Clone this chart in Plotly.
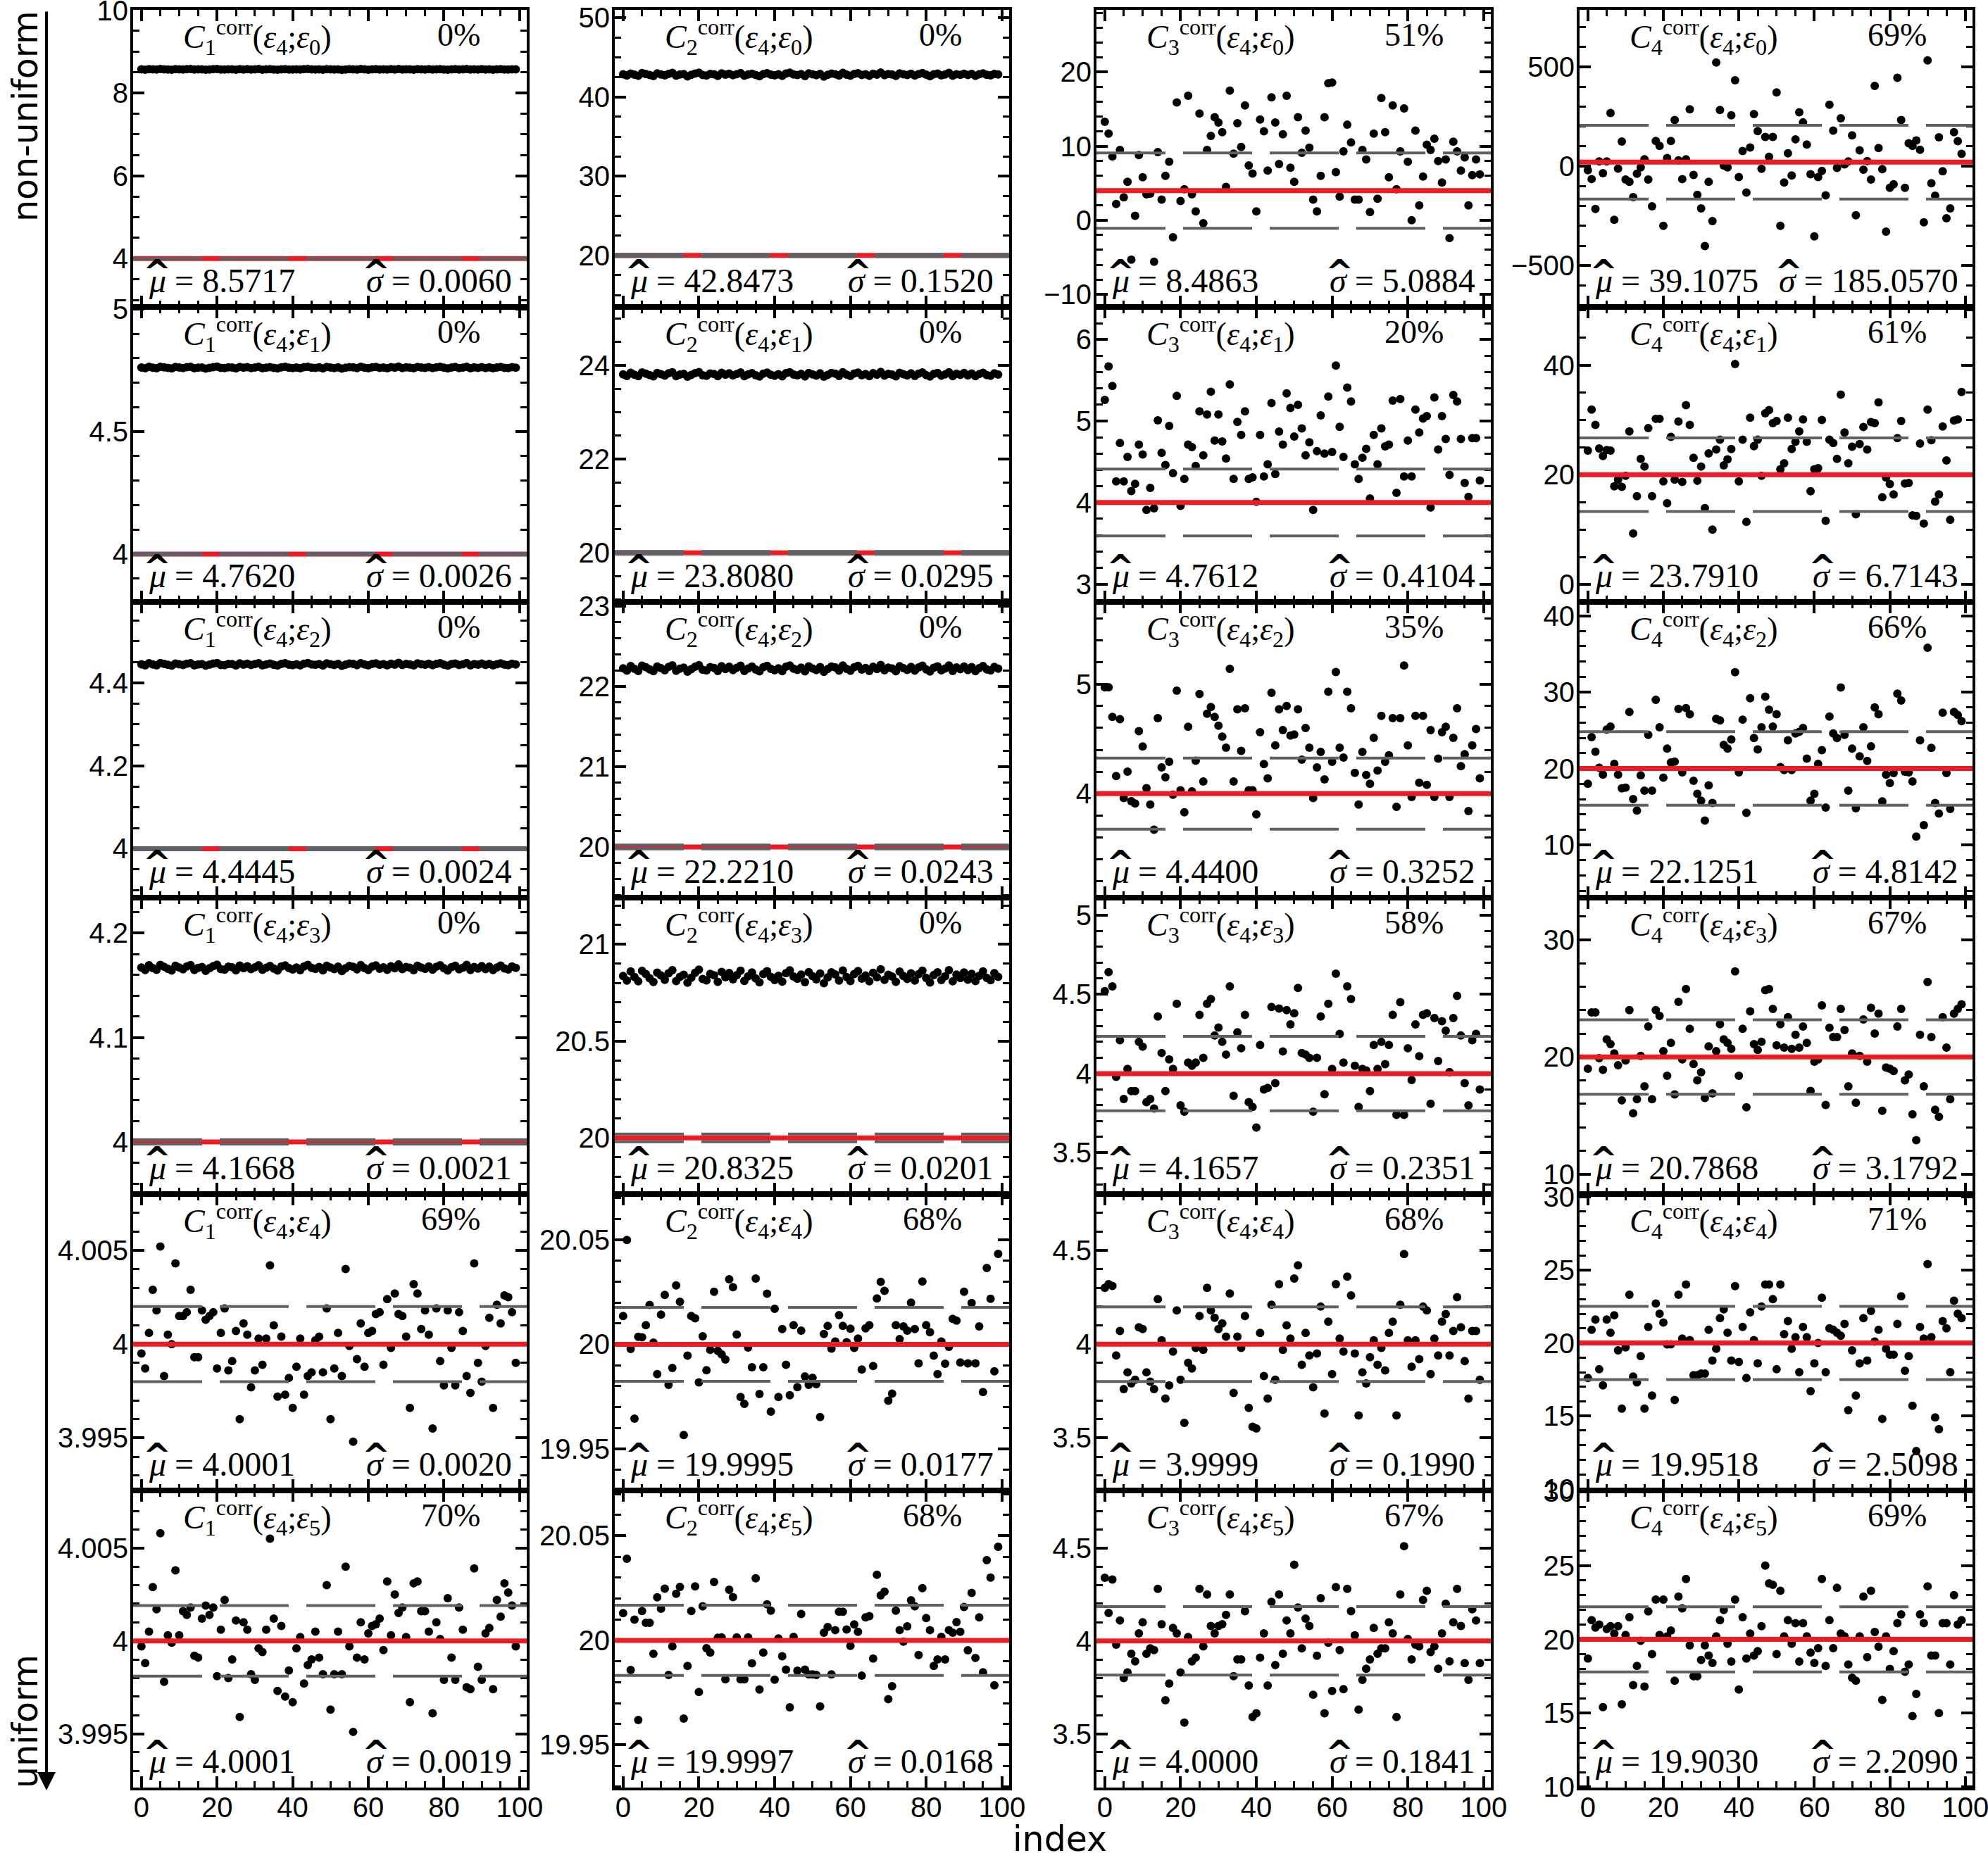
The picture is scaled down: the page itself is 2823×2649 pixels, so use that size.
import plotly.graph_objects as go
from plotly.subplots import make_subplots

W, H = 2823, 2649

INDEX = list(range(100))

# true value of C1..C4 (red line), one per column
TRUTH = [4, 20, 4, 20]

# ---- epsilon_0 row ----
c1_e0 = [8.572, 8.565, 8.578, 8.571, 8.566, 8.580, 8.574, 8.569, 8.563, 8.577,
         8.572, 8.568, 8.575, 8.579, 8.566, 8.571, 8.573, 8.562, 8.570, 8.576,
         8.581, 8.569, 8.567, 8.574, 8.572, 8.564, 8.577, 8.570, 8.575, 8.568,
         8.573, 8.579, 8.565, 8.571, 8.576, 8.569, 8.563, 8.574, 8.578, 8.570,
         8.567, 8.572, 8.566, 8.575, 8.580, 8.571, 8.569, 8.573, 8.564, 8.577,
         8.572, 8.568, 8.574, 8.561, 8.570, 8.576, 8.573, 8.567, 8.579, 8.571,
         8.565, 8.574, 8.578, 8.569, 8.572, 8.566, 8.575, 8.570, 8.582, 8.568,
         8.573, 8.571, 8.564, 8.577, 8.572, 8.569, 8.575, 8.567, 8.574, 8.578,
         8.570, 8.563, 8.572, 8.576, 8.568, 8.571, 8.579, 8.566, 8.573, 8.570,
         8.575, 8.569, 8.574, 8.565, 8.572, 8.577, 8.570, 8.568, 8.574, 8.571]
c2_e0 = [42.86, 42.71, 42.95, 42.83, 42.68, 43.02, 42.90, 42.79, 42.64, 42.97,
         42.85, 42.74, 42.92, 43.05, 42.70, 42.84, 42.89, 42.61, 42.81, 42.96,
         43.08, 42.78, 42.72, 42.91, 42.87, 42.66, 42.99, 42.82, 42.93, 42.75,
         42.88, 43.03, 42.69, 42.85, 42.94, 42.79, 42.63, 42.90, 43.00, 42.82,
         42.73, 42.86, 42.67, 42.95, 43.06, 42.84, 42.78, 42.89, 42.65, 42.98,
         42.86, 42.76, 42.92, 42.58, 42.81, 42.96, 42.88, 42.72, 43.04, 42.83,
         42.69, 42.91, 43.01, 42.79, 42.87, 42.68, 42.94, 42.82, 43.10, 42.75,
         42.89, 42.84, 42.66, 42.99, 42.86, 42.78, 42.93, 42.71, 42.90, 43.02,
         42.82, 42.62, 42.87, 42.96, 42.74, 42.85, 43.04, 42.69, 42.88, 42.81,
         42.94, 42.77, 42.91, 42.67, 42.86, 42.99, 42.80, 42.73, 42.92, 42.84]
c3_e0 = [13.3, 11.7, 8.6, 2.2, 9.5, 3.1, 5.2, -5.3, 0.6, 8.8,
         5.8, 3.5, 3.6, -5.6, 9.2, 2.8, 6.0, 7.9, -2.3, 15.9,
         2.6, 4.2, 16.8, 3.5, 1.2, 14.4, -0.4, 9.5, 11.4, 13.9,
         13.2, 11.9, 4.5, 17.5, 9.0, 13.1, 9.9, 15.5, 7.4, 6.3,
         1.2, 13.6, 12.0, 6.7, 16.6, 13.2, 7.6, 11.6, 16.8, 7.1,
         5.2, 13.9, 9.1, 12.1, 9.8, 2.8, 1.2, 6.0, 13.9, 18.5,
         18.6, 6.5, 3.2, 9.3, 12.9, 10.5, 2.8, 2.8, 9.5, 8.2,
         1.1, 11.7, 2.9, 16.5, 11.9, 5.8, 15.5, 4.2, 9.3, 15.1,
         7.9, 0.0, 12.1, 2.0, 5.9, 10.2, 9.5, 11.0, 8.0, 5.1,
         8.2, -2.4, 10.6, 9.3, 6.7, 8.5, 2.0, 6.1, 8.2, 6.2]
c4_e0 = [-20, -65, -215, 24, -35, 24, 267, -270, -12, 124,
         -67, -79, -156, -38, -6, 35, -67, -202, 127, 102,
         -300, 41, 127, 232, 29, -65, 35, 286, -44, -144,
         -212, -402, -79, -276, 521, 282, 4, -6, 256, 432,
         -55, 76, -133, 94, 262, 176, -13, 147, 47, 147,
         371, -300, -82, 65, -47, 135, 271, 220, 109, -41,
         -353, -55, -24, -147, 309, 179, -9, 241, 9, 24,
         155, -247, 80, -18, 26, -67, 404, 91, -15, -329,
         -109, -91, 444, 232, -109, 115, 102, 129, 82, -282,
         532, -86, -149, 145, -26, -262, -212, 171, 126, 62]

# ---- epsilon_1 row ----
c1_e1 = [4.7624, 4.7593, 4.7651, 4.7618, 4.7597, 4.7655, 4.7632, 4.7609, 4.7588, 4.7644,
         4.7622, 4.7603, 4.7636, 4.7653, 4.7598, 4.7619, 4.7628, 4.7584, 4.7613, 4.7640,
         4.7658, 4.7607, 4.7600, 4.7633, 4.7625, 4.7591, 4.7647, 4.7615, 4.7638, 4.7604,
         4.7627, 4.7652, 4.7595, 4.7620, 4.7641, 4.7610, 4.7589, 4.7634, 4.7650, 4.7616,
         4.7601, 4.7623, 4.7596, 4.7637, 4.7656, 4.7619, 4.7608, 4.7629, 4.7592, 4.7645,
         4.7624, 4.7605, 4.7635, 4.7581, 4.7614, 4.7642, 4.7630, 4.7602, 4.7654, 4.7618,
         4.7594, 4.7634, 4.7649, 4.7609, 4.7626, 4.7597, 4.7639, 4.7615, 4.7661, 4.7604,
         4.7631, 4.7620, 4.7593, 4.7646, 4.7623, 4.7607, 4.7637, 4.7600, 4.7633, 4.7652,
         4.7614, 4.7586, 4.7627, 4.7643, 4.7603, 4.7621, 4.7655, 4.7596, 4.7629, 4.7612,
         4.7640, 4.7606, 4.7634, 4.7595, 4.7624, 4.7648, 4.7613, 4.7601, 4.7636, 4.7619]
c2_e1 = [23.812, 23.776, 23.845, 23.803, 23.771, 23.851, 23.826, 23.795, 23.768, 23.839,
         23.815, 23.784, 23.832, 23.857, 23.774, 23.806, 23.821, 23.762, 23.799, 23.836,
         23.860, 23.790, 23.779, 23.829, 23.817, 23.772, 23.843, 23.801, 23.834, 23.786,
         23.819, 23.853, 23.773, 23.809, 23.838, 23.793, 23.765, 23.827, 23.848, 23.804,
         23.781, 23.813, 23.770, 23.835, 23.856, 23.807, 23.789, 23.823, 23.767, 23.842,
         23.811, 23.785, 23.831, 23.760, 23.800, 23.840, 23.824, 23.778, 23.854, 23.805,
         23.775, 23.828, 23.849, 23.792, 23.818, 23.773, 23.837, 23.802, 23.862, 23.783,
         23.822, 23.808, 23.769, 23.844, 23.814, 23.788, 23.833, 23.777, 23.826, 23.852,
         23.797, 23.764, 23.820, 23.841, 23.782, 23.810, 23.855, 23.772, 23.825, 23.798,
         23.839, 23.786, 23.830, 23.771, 23.816, 23.846, 23.796, 23.780, 23.834, 23.806]
c3_e1 = [5.26, 5.67, 5.43, 4.26, 4.73, 4.26, 4.56, 4.14, 4.23, 4.71,
         4.59, 3.91, 4.18, 3.93, 5.01, 4.61, 4.46, 4.94, 4.36, 5.31,
         3.96, 4.29, 4.71, 4.68, 4.45, 5.12, 4.58, 5.08, 5.36, 4.76,
         5.08, 4.75, 4.54, 5.45, 4.29, 4.99, 4.83, 5.12, 4.29, 4.31,
         4.01, 4.83, 4.32, 4.47, 5.22, 4.35, 4.87, 4.71, 5.34, 5.16,
         4.81, 5.20, 4.91, 4.58, 4.74, 3.91, 4.63, 5.07, 4.60, 5.30,
         4.62, 5.68, 4.93, 4.56, 5.41, 5.24, 4.47, 4.29, 4.55, 4.66,
         4.05, 4.83, 4.47, 4.91, 4.69, 4.71, 5.25, 4.12, 5.27, 4.32,
         4.76, 4.32, 5.14, 4.86, 5.03, 5.06, 3.94, 5.29, 4.65, 5.06,
         4.78, 4.34, 5.32, 5.24, 4.78, 4.24, 4.07, 4.79, 4.79, 4.27]
c4_e1 = [24.4, 31.9, 29.1, 24.8, 23.4, 24.5, 24.4, 17.9, 19.1, 17.8,
         19.8, 27.9, 9.3, 16.1, 22.9, 21.5, 28.5, 16.1, 30.2, 30.2,
         18.8, 14.8, 26.9, 19.1, 29.7, 18.7, 32.7, 29.1, 23.1, 18.9,
         21.5, 13.9, 23.9, 10.0, 24.6, 26.4, 21.7, 22.8, 24.7, 40.2,
         18.8, 26.4, 11.4, 30.4, 25.2, 26.4, 19.8, 31.2, 31.8, 29.4,
         29.8, 21.0, 22.1, 30.4, 24.7, 26.0, 27.9, 30.1, 26.0, 17.0,
         21.0, 21.2, 30.0, 11.6, 26.4, 25.8, 22.9, 34.6, 27.7, 22.1,
         25.1, 12.8, 25.6, 28.7, 24.6, 29.6, 29.4, 33.2, 15.9, 19.5,
         18.3, 16.4, 26.7, 29.8, 18.4, 18.5, 12.6, 12.5, 25.7, 11.1,
         31.9, 26.3, 15.1, 16.4, 28.8, 22.6, 11.8, 29.9, 30.1, 35.1]

# ---- epsilon_2 row ----
c1_e2 = [4.4449, 4.4421, 4.4472, 4.4443, 4.4424, 4.4476, 4.4456, 4.4434, 4.4415, 4.4466,
         4.4447, 4.4429, 4.4460, 4.4474, 4.4422, 4.4444, 4.4452, 4.4412, 4.4439, 4.4463,
         4.4479, 4.4432, 4.4426, 4.4457, 4.4450, 4.4418, 4.4469, 4.4440, 4.4461, 4.4430,
         4.4451, 4.4473, 4.4423, 4.4445, 4.4464, 4.4436, 4.4416, 4.4458, 4.4471, 4.4441,
         4.4427, 4.4448, 4.4420, 4.4459, 4.4477, 4.4444, 4.4433, 4.4453, 4.4419, 4.4467,
         4.4448, 4.4431, 4.4458, 4.4409, 4.4439, 4.4465, 4.4455, 4.4428, 4.4475, 4.4443,
         4.4422, 4.4457, 4.4470, 4.4435, 4.4450, 4.4424, 4.4462, 4.4440, 4.4481, 4.4430,
         4.4454, 4.4445, 4.4420, 4.4468, 4.4447, 4.4433, 4.4460, 4.4426, 4.4456, 4.4473,
         4.4439, 4.4414, 4.4451, 4.4466, 4.4429, 4.4446, 4.4476, 4.4422, 4.4453, 4.4437,
         4.4463, 4.4432, 4.4457, 4.4421, 4.4448, 4.4469, 4.4438, 4.4427, 4.4459, 4.4444]
c2_e2 = [22.224, 22.195, 22.252, 22.217, 22.191, 22.257, 22.237, 22.211, 22.189, 22.247,
         22.227, 22.201, 22.241, 22.261, 22.193, 22.219, 22.232, 22.183, 22.214, 22.244,
         22.264, 22.207, 22.198, 22.239, 22.229, 22.192, 22.250, 22.216, 22.243, 22.203,
         22.230, 22.258, 22.192, 22.222, 22.246, 22.209, 22.186, 22.238, 22.255, 22.218,
         22.200, 22.225, 22.190, 22.244, 22.260, 22.220, 22.205, 22.234, 22.187, 22.249,
         22.223, 22.202, 22.240, 22.180, 22.215, 22.247, 22.235, 22.196, 22.259, 22.218,
         22.194, 22.238, 22.254, 22.208, 22.228, 22.191, 22.245, 22.216, 22.266, 22.200,
         22.233, 22.221, 22.188, 22.251, 22.226, 22.204, 22.242, 22.195, 22.236, 22.257,
         22.212, 22.185, 22.231, 22.248, 22.199, 22.223, 22.259, 22.192, 22.235, 22.213,
         22.246, 22.203, 22.239, 22.190, 22.227, 22.252, 22.211, 22.197, 22.241, 22.219]
c3_e2 = [4.97, 4.97, 4.70, 4.16, 4.68, 3.96, 4.20, 3.93, 3.91, 4.57,
         4.43, 4.05, 3.90, 3.67, 4.69, 4.24, 4.15, 4.29, 3.99, 4.94,
         4.03, 3.83, 4.61, 4.02, 4.30, 4.91, 4.11, 4.73, 4.79, 4.70,
         4.62, 4.52, 4.42, 5.14, 4.11, 4.77, 4.39, 4.78, 4.03, 4.03,
         3.81, 4.56, 4.27, 4.14, 4.92, 4.44, 4.77, 4.58, 4.80, 4.53,
         4.54, 4.77, 4.31, 4.60, 4.42, 3.96, 4.24, 4.38, 4.13, 4.93,
         4.29, 5.11, 4.42, 4.33, 4.93, 4.78, 4.19, 3.90, 4.38, 4.17,
         4.09, 4.51, 4.21, 4.71, 4.29, 4.35, 4.69, 3.88, 4.69, 5.17,
         4.44, 3.97, 4.71, 4.10, 4.71, 4.08, 4.58, 3.97, 4.32, 4.56,
         4.61, 3.97, 4.51, 4.78, 4.25, 4.36, 3.84, 4.44, 4.59, 4.14]
c4_e2 = [18.0, 24.1, 22.2, 20.1, 19.2, 25.1, 25.5, 20.6, 19.2, 17.4,
         17.5, 27.4, 16.0, 14.5, 19.1, 17.1, 24.4, 17.1, 29.0, 25.4,
         18.8, 22.6, 20.8, 20.9, 27.8, 19.5, 27.9, 27.1, 18.4, 16.7,
         15.8, 13.2, 17.8, 15.5, 26.5, 26.3, 23.1, 22.6, 23.8, 32.6,
         19.5, 26.4, 14.2, 29.2, 24.0, 22.5, 25.4, 29.4, 27.7, 25.5,
         27.1, 20.2, 19.8, 23.7, 19.8, 24.6, 24.8, 25.3, 21.3, 15.8,
         16.7, 20.6, 22.4, 14.9, 26.8, 24.6, 24.0, 30.6, 24.4, 17.1,
         22.6, 14.8, 21.6, 25.4, 21.0, 22.9, 28.0, 27.1, 15.7, 19.2,
         18.1, 19.4, 29.8, 28.9, 19.6, 19.5, 18.3, 11.1, 23.7, 12.6,
         35.8, 22.7, 15.5, 14.1, 27.3, 19.4, 14.7, 27.4, 27.0, 26.2]

# ---- epsilon_3 row ----
c1_e3 = [4.1671, 4.1646, 4.1692, 4.1666, 4.1649, 4.1695, 4.1678, 4.1658, 4.1641, 4.1687,
         4.1670, 4.1653, 4.1681, 4.1694, 4.1647, 4.1667, 4.1675, 4.1639, 4.1663, 4.1684,
         4.1698, 4.1656, 4.1651, 4.1679, 4.1672, 4.1644, 4.1689, 4.1664, 4.1682, 4.1655,
         4.1673, 4.1693, 4.1648, 4.1668, 4.1685, 4.1660, 4.1642, 4.1680, 4.1691, 4.1665,
         4.1652, 4.1670, 4.1645, 4.1680, 4.1696, 4.1667, 4.1657, 4.1676, 4.1644, 4.1688,
         4.1671, 4.1655, 4.1679, 4.1636, 4.1663, 4.1686, 4.1677, 4.1653, 4.1694, 4.1666,
         4.1647, 4.1679, 4.1690, 4.1659, 4.1672, 4.1649, 4.1683, 4.1664, 4.1700, 4.1655,
         4.1676, 4.1668, 4.1645, 4.1688, 4.1670, 4.1657, 4.1681, 4.1651, 4.1678, 4.1693,
         4.1663, 4.1641, 4.1674, 4.1687, 4.1654, 4.1669, 4.1695, 4.1647, 4.1676, 4.1661,
         4.1684, 4.1656, 4.1679, 4.1646, 4.1671, 4.1689, 4.1662, 4.1652, 4.1680, 4.1667]
c2_e3 = [20.836, 20.812, 20.859, 20.830, 20.808, 20.862, 20.846, 20.824, 20.805, 20.853,
         20.838, 20.816, 20.849, 20.866, 20.809, 20.831, 20.842, 20.801, 20.827, 20.852,
         20.868, 20.820, 20.813, 20.847, 20.839, 20.806, 20.857, 20.829, 20.851, 20.818,
         20.840, 20.863, 20.810, 20.834, 20.854, 20.823, 20.803, 20.846, 20.860, 20.831,
         20.815, 20.837, 20.807, 20.850, 20.865, 20.833, 20.821, 20.843, 20.804, 20.856,
         20.835, 20.818, 20.848, 20.798, 20.828, 20.855, 20.844, 20.812, 20.864, 20.830,
         20.809, 20.846, 20.861, 20.822, 20.838, 20.808, 20.852, 20.829, 20.870, 20.816,
         20.842, 20.833, 20.806, 20.858, 20.836, 20.820, 20.849, 20.812, 20.845, 20.863,
         20.826, 20.802, 20.840, 20.855, 20.815, 20.834, 20.866, 20.808, 20.843, 20.825,
         20.854, 20.817, 20.847, 20.809, 20.837, 20.859, 20.826, 20.814, 20.850, 20.831]
c3_e3 = [4.52, 4.64, 4.55, 3.98, 4.21, 3.84, 4.03, 3.89, 3.89, 4.20,
         4.17, 3.82, 3.84, 3.78, 4.36, 4.13, 3.89, 4.09, 4.03, 4.44,
         3.80, 3.76, 4.07, 4.05, 4.07, 4.37, 4.10, 4.44, 4.47, 4.24,
         4.29, 4.20, 4.12, 4.55, 3.86, 4.26, 4.16, 4.37, 3.82, 3.79,
         3.66, 4.18, 3.90, 3.91, 4.42, 3.94, 4.41, 4.14, 4.40, 4.31,
         4.38, 4.54, 4.13, 4.12, 4.10, 3.76, 4.10, 4.36, 3.87, 4.44,
         4.03, 4.63, 4.25, 4.07, 4.55, 4.47, 4.05, 3.79, 4.03, 4.02,
         3.89, 4.18, 4.03, 4.20, 4.06, 4.18, 4.37, 3.74, 4.45, 3.74,
         4.16, 3.96, 4.31, 4.11, 4.37, 4.38, 3.81, 4.35, 4.08, 4.33,
         4.27, 4.01, 4.35, 4.49, 4.24, 3.94, 3.80, 4.21, 4.25, 3.90]
c4_e3 = [19.0, 23.8, 23.8, 19.9, 18.9, 21.5, 21.1, 20.3, 19.3, 16.3,
         19.7, 24.0, 15.2, 16.4, 20.1, 17.5, 22.6, 16.4, 24.0, 23.5,
         20.5, 18.4, 21.2, 16.8, 24.7, 19.8, 25.8, 22.4, 19.4, 18.0,
         18.7, 16.5, 20.9, 16.9, 20.5, 22.8, 21.5, 21.2, 20.7, 27.3,
         18.4, 22.4, 15.7, 23.9, 21.1, 20.6, 21.3, 25.7, 25.8, 24.1,
         21.0, 22.8, 20.8, 23.4, 20.7, 21.9, 20.8, 22.6, 21.2, 17.1,
         19.6, 19.8, 24.4, 15.9, 22.5, 21.7, 21.7, 24.1, 22.3, 17.5,
         20.3, 16.1, 20.1, 23.2, 19.6, 24.2, 22.0, 23.7, 15.4, 19.1,
         19.0, 18.8, 22.6, 24.1, 18.0, 18.5, 15.1, 12.9, 21.9, 17.5,
         26.4, 21.7, 15.5, 14.9, 23.4, 20.8, 16.4, 23.7, 24.1, 24.5]

# ---- epsilon_4 row ----
c1_e4 = [3.9995, 3.9987, 4.0006, 4.0029, 4.0018, 4.0052, 3.9983, 4.0005, 4.0000, 4.0043,
         4.0015, 4.0015, 4.0017, 4.0029, 3.9993, 3.9993, 4.0018, 4.0013, 4.0015, 4.0017,
         3.9987, 4.0006, 4.0019, 3.9986, 3.9991, 4.0007, 3.9960, 4.0011, 4.0005, 3.9977,
         3.9986, 4.0003, 3.9989, 4.0003, 4.0042, 4.0010, 3.9972, 4.0004, 3.9973, 3.9982,
         3.9966, 3.9988, 4.0003, 3.9973, 3.9983, 3.9985, 4.0002, 4.0004, 3.9985, 4.0019,
         3.9960, 3.9987, 4.0006, 3.9983, 4.0040, 3.9999, 3.9948, 3.9992, 4.0011, 3.9988,
         4.0006, 4.0007, 4.0016, 4.0017, 3.9989, 4.0024, 3.9998, 4.0027, 4.0016, 4.0015,
         4.0004, 3.9966, 4.0032, 4.0027, 4.0008, 4.0018, 4.0005, 3.9955, 4.0019, 3.9991,
         3.9978, 4.0018, 3.9998, 3.9978, 4.0017, 4.0007, 3.9983, 3.9974, 4.0043, 3.9990,
         3.9980, 3.9999, 4.0014, 3.9966, 4.0021, 4.0011, 4.0026, 4.0025, 4.0017, 3.9990]
c2_e4 = [20.0136, 20.0500, 19.9978, 19.9644, 20.0036, 20.0034, 20.0092, 20.0189, 20.0008, 19.9857,
         20.0142, 20.0237, 19.9806, 19.9887, 20.0282, 20.0204, 19.9566, 19.9946, 20.0136, 20.0125,
         19.9818, 20.0039, 19.9876, 19.9974, 20.0252, 19.9969, 19.9952, 19.9927, 20.0312, 20.0274,
         20.0047, 19.9748, 19.9715, 19.9985, 19.9890, 20.0315, 19.9762, 19.9890, 20.0243, 19.9678,
         20.0170, 19.9748, 20.0073, 19.9902, 19.9756, 20.0092, 19.9795, 20.0066, 19.9846, 19.9806,
         19.9840, 19.9809, 19.9652, 20.0050, 20.0088, 19.9980, 20.0013, 20.0140, 20.0088, 20.0010,
         20.0075, 19.9983, 20.0028, 19.9879, 20.0077, 20.0092, 19.9896, 20.0220, 20.0299, 20.0256,
         19.9730, 19.9764, 20.0092, 20.0025, 20.0086, 20.0066, 20.0200, 20.0073, 19.9909, 20.0301,
         20.0092, 20.0058, 19.9946, 19.9857, 20.0013, 19.9907, 19.9988, 20.0122, 20.0114, 19.9913,
         20.0252, 19.9909, 20.0198, 19.9909, 20.0086, 19.9771, 20.0366, 20.0218, 19.9871, 20.0433]
c3_e4 = [4.30, 4.32, 4.31, 3.94, 4.07, 3.76, 3.85, 3.79, 3.81, 4.09,
         4.08, 3.85, 3.80, 3.76, 4.24, 4.02, 3.71, 3.78, 3.96, 4.18,
         3.81, 3.58, 3.90, 3.87, 3.98, 4.15, 3.97, 4.30, 4.18, 4.14,
         4.08, 4.11, 4.04, 4.27, 3.74, 4.04, 3.98, 4.15, 3.66, 3.56,
         3.55, 4.06, 3.83, 3.71, 4.21, 3.81, 4.32, 3.97, 4.10, 4.03,
         4.35, 4.42, 3.89, 4.06, 3.94, 3.77, 3.95, 4.20, 3.63, 4.12,
         3.84, 4.32, 4.03, 3.96, 4.36, 4.26, 3.95, 3.62, 3.85, 3.79,
         3.93, 4.02, 3.89, 3.98, 3.86, 4.06, 4.12, 3.62, 4.21, 4.48,
         4.02, 3.88, 4.02, 3.92, 4.20, 4.18, 3.84, 4.03, 3.94, 4.12,
         4.16, 3.94, 4.07, 4.25, 4.09, 3.91, 3.71, 4.07, 4.07, 3.81]
c4_e4 = [17.6, 20.9, 21.6, 18.2, 17.1, 21.6, 20.7, 21.9, 19.5, 15.5,
         19.7, 23.3, 17.7, 17.3, 19.1, 15.5, 21.1, 16.4, 22.7, 22.0,
         21.4, 19.9, 19.9, 16.1, 23.3, 20.3, 24.0, 20.2, 17.8, 17.8,
         17.9, 17.9, 20.9, 18.8, 19.6, 21.7, 22.3, 20.7, 18.8, 23.9,
         18.7, 21.1, 17.6, 22.1, 20.2, 18.6, 22.5, 24.0, 24.0, 23.0,
         18.2, 24.0, 20.6, 21.5, 19.6, 20.4, 18.0, 21.1, 20.4, 16.7,
         18.6, 20.0, 23.1, 18.0, 21.0, 20.9, 20.7, 20.5, 21.3, 15.4,
         19.5, 16.4, 18.6, 21.7, 18.8, 22.2, 20.1, 20.9, 14.8, 19.6,
         19.2, 19.2, 21.3, 23.2, 18.1, 19.1, 15.7, 12.6, 21.1, 20.3,
         25.4, 20.4, 14.9, 14.1, 21.5, 21.0, 18.0, 22.9, 22.0, 21.7]

# ---- epsilon_5 row ----
c1_e5 = [3.9997, 3.9988, 4.0005, 4.0029, 4.0017, 4.0058, 3.9978, 4.0003, 3.9999, 4.0038,
         4.0003, 4.0016, 4.0014, 4.0018, 3.9992, 3.9991, 4.0012, 4.0019, 4.0014, 4.0018,
         3.9981, 4.0006, 4.0022, 3.9980, 3.9990, 4.0011, 3.9959, 4.0010, 4.0006, 3.9982,
         3.9979, 3.9996, 3.9994, 4.0006, 4.0055, 4.0012, 3.9973, 4.0008, 3.9970, 3.9984,
         3.9967, 3.9996, 4.0002, 3.9977, 3.9987, 3.9990, 4.0005, 3.9991, 3.9982, 4.0030,
         3.9963, 3.9982, 4.0005, 3.9982, 4.0040, 3.9997, 3.9951, 3.9991, 4.0010, 3.9990,
         4.0004, 4.0008, 4.0009, 4.0012, 3.9995, 4.0032, 4.0003, 4.0025, 4.0015, 4.0018,
         4.0002, 3.9967, 4.0031, 4.0032, 4.0016, 4.0016, 4.0005, 3.9961, 4.0010, 4.0001,
         3.9979, 4.0023, 3.9991, 3.9979, 4.0018, 4.0006, 3.9975, 3.9974, 4.0039, 3.9986,
         3.9979, 4.0004, 4.0007, 3.9974, 4.0022, 4.0013, 4.0031, 4.0026, 4.0019, 3.9997]
c2_e5 = [20.0130, 20.0390, 19.9858, 20.0099, 19.9619, 20.0140, 20.0084, 20.0084, 19.9936, 20.0206,
         20.0151, 20.0247, 19.9835, 19.9971, 20.0223, 20.0256, 19.9626, 19.9878, 20.0140, 20.0258,
         19.9753, 20.0163, 19.9963, 19.9942, 20.0279, 20.0012, 20.0014, 19.9814, 20.0242, 20.0207,
         20.0014, 19.9814, 19.9814, 20.0014, 19.9890, 20.0297, 19.9765, 19.9942, 20.0172, 20.0142,
         19.9812, 20.0009, 19.9924, 19.9860, 19.9680, 20.0017, 19.9855, 20.0126, 19.9860, 19.9837,
         19.9837, 19.9835, 19.9684, 20.0037, 20.0064, 19.9837, 20.0049, 20.0137, 20.0137, 20.0052,
         19.9974, 20.0076, 20.0041, 19.9831, 20.0110, 20.0116, 19.9913, 20.0314, 20.0215, 20.0233,
         19.9719, 19.9781, 20.0142, 20.0049, 19.9994, 20.0067, 20.0192, 20.0163, 19.9930, 20.0250,
         20.0107, 20.0049, 19.9878, 19.9909, 20.0017, 19.9909, 20.0049, 20.0037, 20.0087, 20.0041,
         20.0160, 19.9953, 20.0227, 19.9916, 20.0110, 19.9847, 20.0384, 20.0300, 19.9785, 20.0448]
c3_e5 = [4.34, 4.15, 4.33, 3.98, 4.11, 3.80, 3.83, 3.93, 3.89, 4.04,
         4.10, 3.93, 3.96, 3.95, 4.28, 4.09, 3.68, 3.77, 4.07, 4.04,
         3.83, 3.56, 4.02, 3.89, 3.91, 4.28, 3.97, 4.25, 4.08, 4.04,
         4.08, 4.09, 4.14, 4.25, 3.81, 3.90, 3.90, 4.16, 3.76, 3.59,
         3.61, 3.91, 4.04, 3.76, 4.21, 3.87, 4.25, 3.93, 4.11, 4.04,
         4.41, 4.18, 3.96, 4.12, 4.08, 3.71, 3.92, 4.23, 3.61, 3.99,
         3.73, 4.29, 3.95, 3.74, 4.28, 4.16, 4.03, 3.63, 3.79, 3.85,
         3.90, 4.07, 3.93, 3.96, 3.96, 4.10, 4.04, 3.59, 4.25, 4.51,
         4.01, 3.90, 3.98, 3.97, 4.22, 4.27, 3.94, 3.97, 3.85, 4.04,
         4.20, 3.89, 4.10, 4.28, 4.08, 3.88, 3.79, 4.17, 4.11, 3.88]
c4_e5 = [18.7, 21.3, 20.8, 21.0, 15.4, 20.7, 20.9, 20.4, 20.9, 15.6,
         20.3, 21.5, 16.9, 18.2, 19.9, 16.8, 21.9, 19.0, 22.7, 20.3,
         22.7, 20.2, 20.6, 17.2, 22.9, 22.1, 24.1, 19.6, 17.5, 17.5,
         18.6, 19.6, 18.9, 18.4, 20.2, 21.3, 22.0, 19.7, 18.5, 22.7,
         16.6, 21.5, 18.7, 20.4, 18.9, 19.2, 20.9, 25.0, 23.8, 23.7,
         19.0, 23.3, 20.2, 21.3, 19.7, 21.1, 18.5, 21.1, 20.2, 19.1,
         18.4, 19.4, 24.1, 18.2, 21.3, 19.4, 23.5, 20.4, 20.2, 18.3,
         17.4, 17.2, 20.2, 22.9, 18.8, 23.3, 20.5, 19.5, 15.9, 20.2,
         18.0, 19.2, 21.1, 21.7, 17.8, 18.3, 14.8, 16.3, 21.7, 21.1,
         23.6, 18.9, 18.9, 15.0, 21.1, 21.1, 18.3, 23.0, 21.0, 21.3]

SERIES = [
    [c1_e0, c2_e0, c3_e0, c4_e0],
    [c1_e1, c2_e1, c3_e1, c4_e1],
    [c1_e2, c2_e2, c3_e2, c4_e2],
    [c1_e3, c2_e3, c3_e3, c4_e3],
    [c1_e4, c2_e4, c3_e4, c4_e4],
    [c1_e5, c2_e5, c3_e5, c4_e5],
]

MU_HAT = [
    ['8.5717', '42.8473', '8.4863', '39.1075'],
    ['4.7620', '23.8080', '4.7612', '23.7910'],
    ['4.4445', '22.2210', '4.4400', '22.1251'],
    ['4.1668', '20.8325', '4.1657', '20.7868'],
    ['4.0001', '19.9995', '3.9999', '19.9518'],
    ['4.0001', '19.9997', '4.0000', '19.9030'],
]
SIGMA_HAT = [
    ['0.0060', '0.1520', '5.0884', '185.0570'],
    ['0.0026', '0.0295', '0.4104', '6.7143'],
    ['0.0024', '0.0243', '0.3252', '4.8142'],
    ['0.0021', '0.0201', '0.2351', '3.1792'],
    ['0.0020', '0.0177', '0.1990', '2.5098'],
    ['0.0019', '0.0168', '0.1841', '2.2090'],
]
PERCENT = [
    ['0%', '0%', '51%', '69%'],
    ['0%', '0%', '20%', '61%'],
    ['0%', '0%', '35%', '66%'],
    ['0%', '0%', '58%', '67%'],
    ['69%', '68%', '68%', '71%'],
    ['70%', '68%', '67%', '69%'],
]

# y axis of each panel: (range, major step, minor step)
Y_AXES = [
    [([2.83, 10.01], 2, 0.5), ([13.5, 51.0], 10, 2.5), ([-11.7, 28.4], 10, 2), ([-708, 786], 500, 100)],
    [([3.804, 5.01], 0.5, 0.1), ([18.95, 25.25], 2, 0.5), ([2.78, 6.40], 1, 0.2), ([-3.2, 50.6], 20, 5)],
    [([3.882, 4.595], 0.2, 0.05), ([19.37, 23.05], 1, 0.2), ([3.05, 5.75], 1, 0.2), ([3.1, 41.8], 10, 2)],
    [([3.950, 4.234], 0.1, 0.02), ([19.71, 21.24], 0.5, 0.1), ([3.24, 5.11], 0.5, 0.1), ([8.3, 33.6], 10, 2)],
    [([3.9922, 4.0080], 0.005, 0.001), ([19.930, 20.072], 0.05, 0.01), ([3.22, 4.80], 0.5, 0.1), ([9.9, 30.2], 5, 1)],
    [([3.9921, 4.0081], 0.005, 0.001), ([19.9296, 20.0717], 0.05, 0.01), ([3.21, 4.81], 0.5, 0.1), ([9.95, 30.1], 5, 1)],
]

# panel boxes in page pixels
COL_PX = [(189, 748), (873, 1433), (1557, 2117), (2243, 2801)]
ROW_PX = [(14, 436), (436, 855), (855, 1275), (1275, 1696), (1696, 2117), (2117, 2539)]

RED = '#ec1c24'
GREY = '#5f6167'
SERIF = 'Liberation Serif, Times New Roman, serif'
SANS = 'Liberation Sans, Arial, sans-serif'
LABEL = 'DejaVu Sans, sans-serif'
FS_TITLE = 46
FS_PCT = 46
FS_STAT = 48
FS_HAT = 48

# Times advance widths (em) for the characters in the sigma label
ADV = {'.': 0.25, '=': 0.564, ' ': 0.25}


def serif_width(s, size):
    return sum(ADV.get(ch, 0.5) for ch in s) * size


fig = make_subplots(rows=6, cols=4)

axis_common = dict(
    showline=True, linewidth=4, linecolor='black', mirror='allticks',
    ticks='inside', ticklen=16, tickwidth=4, tickcolor='black',
    showgrid=False, zeroline=False, automargin=False, ticklabeloverflow='allow',
    tickfont=dict(family=SANS, size=40, color='black'),
)

shapes = []
annotations = []

for r in range(6):
    for c in range(4):
        n = r * 4 + c + 1
        sfx = '' if n == 1 else str(n)
        x0, x1 = COL_PX[c]
        y0, y1 = ROW_PX[r]
        pw = x1 - x0

        fig.add_trace(go.Scatter(
            x=INDEX, y=SERIES[r][c], mode='markers',
            marker=dict(color='black', size=12),
            showlegend=False, hoverinfo='skip',
        ), row=r + 1, col=c + 1)

        fig.update_xaxes(
            domain=[x0 / W, x1 / W], range=[-2.2, 101.9],
            tick0=0, dtick=20, showticklabels=(r == 5), ticklabelstandoff=-10,
            minor=dict(ticks='inside', ticklen=9, tickwidth=3, tickcolor='black', dtick=5, tick0=0),
            **axis_common, row=r + 1, col=c + 1)
        yr, ystep, yminor = Y_AXES[r][c]
        fig.update_yaxes(
            domain=[1 - y1 / H, 1 - y0 / H], range=yr,
            tick0=0, dtick=ystep, ticklabelstandoff=-5,
            minor=dict(ticks='inside', ticklen=9, tickwidth=3, tickcolor='black', dtick=yminor, tick0=0),
            **axis_common, row=r + 1, col=c + 1)

        xd = f'x{sfx} domain'
        yd = f'y{sfx} domain'
        truth = TRUTH[c]
        sig = float(SIGMA_HAT[r][c])

        # true value and +- sigma band
        shapes.append(dict(type='line', xref=xd, yref=f'y{sfx}', x0=0, x1=1,
                           y0=truth, y1=truth, layer='above',
                           line=dict(color=RED, width=7)))
        for yv in (truth + sig, truth - sig):
            shapes.append(dict(type='line', xref=xd, yref=f'y{sfx}', x0=0, x1=1,
                               y0=yv, y1=yv, layer='above',
                               line=dict(color=GREY, width=4, dash='98px,25px')))

        # title and percentage
        annotations.append(dict(
            xref=xd, yref=yd, x=69 / pw, y=1, xanchor='left', yanchor='top', yshift=-4,
            text=f'<i>C</i><sub>{c + 1}</sub><sup>corr</sup>(<i>ε</i><sub>4</sub>;<i>ε</i><sub>{r}</sub>)',
            showarrow=False, font=dict(family=SERIF, size=FS_TITLE, color='black')))
        annotations.append(dict(
            xref=xd, yref=yd, x=495 / pw, y=1, xanchor='right', yanchor='top', yshift=-8,
            text=PERCENT[r][c], showarrow=False,
            font=dict(family=SERIF, size=FS_PCT, color='black')))

        # estimated mean and spread with hats
        annotations.append(dict(
            xref=xd, yref=yd, x=20 / pw, y=0, xanchor='left', yanchor='bottom', yshift=9,
            text=f'<i>μ</i> = {MU_HAT[r][c]}', showarrow=False,
            font=dict(family=SERIF, size=FS_STAT, color='black')))
        annotations.append(dict(
            xref=xd, yref=yd, x=20 / pw, y=0, xanchor='center', yanchor='bottom',
            xshift=0.29 * FS_STAT, yshift=20,
            text='<b>^</b>', showarrow=False,
            font=dict(family=LABEL, size=FS_HAT, color='black')))
        right = 540 / pw
        annotations.append(dict(
            xref=xd, yref=yd, x=right, y=0, xanchor='right', yanchor='bottom', yshift=9,
            text=f'<i>σ</i> = {SIGMA_HAT[r][c]}', showarrow=False,
            font=dict(family=SERIF, size=FS_STAT, color='black')))
        annotations.append(dict(
            xref=xd, yref=yd, x=right, y=0, xanchor='center', yanchor='bottom',
            xshift=-(serif_width(' = ' + SIGMA_HAT[r][c], FS_STAT) + 0.24 * FS_STAT), yshift=20,
            text='<b>^</b>', showarrow=False,
            font=dict(family=LABEL, size=FS_HAT, color='black')))

# side labels and arrow
annotations.append(dict(xref='paper', yref='paper', x=36 / W, y=1 - 165 / H,
                        xanchor='center', yanchor='middle', textangle=-90,
                        text='non-uniform', showarrow=False,
                        font=dict(family=LABEL, size=49, color='black')))
annotations.append(dict(xref='paper', yref='paper', x=36 / W, y=1 - 2445 / H,
                        xanchor='center', yanchor='middle', textangle=-90,
                        text='uniform', showarrow=False,
                        font=dict(family=LABEL, size=49, color='black')))
annotations.append(dict(xref='paper', yref='paper', x=1505 / W, y=1 - 2612 / H,
                        xanchor='center', yanchor='middle',
                        text='index', showarrow=False,
                        font=dict(family=LABEL, size=49, color='black')))
annotations.append(dict(xref='paper', yref='paper', x=66 / W, y=1 - 2543 / H,
                        ax=0, ay=-(2543 - 15), axref='pixel', ayref='pixel',
                        text='', showarrow=True, arrowhead=2, arrowsize=1.3,
                        arrowwidth=4, arrowcolor='black', standoff=0))

fig.update_layout(
    width=W, height=H,
    margin=dict(l=0, r=0, t=0, b=0),
    paper_bgcolor='white', plot_bgcolor='white',
    showlegend=False,
    shapes=shapes,
    annotations=annotations,
)

fig.write_html("out.html", config={'displayModeBar': False},
               post_script="document.body.style.margin='0px';document.body.style.overflow='hidden';")
